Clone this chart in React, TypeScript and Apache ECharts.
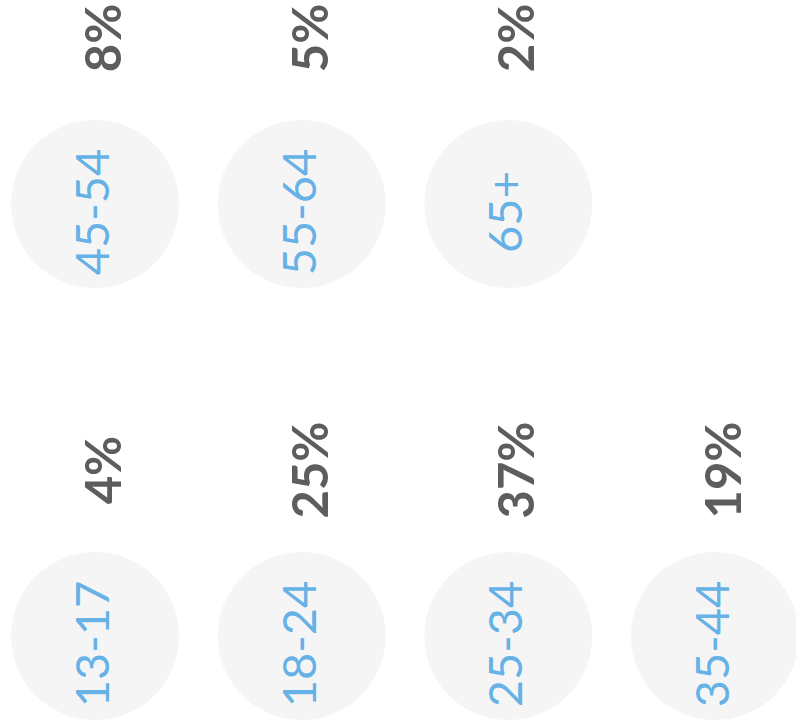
import React, { useEffect, useRef } from "react";
import * as echarts from "echarts";

// Age groups, their column / row slot in the grid, and audience share (%)
const ageGroups = ["13-17", "18-24", "25-34", "35-44", "45-54", "55-64", "65+"];
const columns = [0, 1, 2, 3, 0, 1, 2];
const rows = [0, 0, 0, 0, 1, 1, 1];
const shares = [4, 25, 37, 19, 8, 5, 2];

export default function App() {
  const ref = useRef<HTMLDivElement>(null);
  useEffect(() => {
    if (!ref.current) return;
    const chart = echarts.init(ref.current, undefined, { renderer: "svg" });
    const circleData = ageGroups.map((g, i) => ({ value: [columns[i], rows[i]], name: g }));
    const shareData = shares.map((s, i) => ({ value: [columns[i], rows[i], s], name: ageGroups[i] }));
    chart.setOption({
      animation: false,
      backgroundColor: "#ffffff",
      grid: { left: 0, right: 0, top: 0, bottom: 0 },
      xAxis: { type: "value", min: -0.46, max: 3.392, show: false, splitLine: { show: false } },
      yAxis: { type: "value", min: -0.2106, max: 1.4722, show: false, splitLine: { show: false } },
      series: [
        {
          type: "scatter",
          data: circleData,
          symbol: "circle",
          symbolSize: 168,
          itemStyle: { color: "#f2f3f4" },
          label: {
            show: true,
            position: "inside",
            rotate: 90,
            formatter: (p: any) => p.name,
            color: "#3f9fe2",
            fontFamily: "Lato",
            fontSize: 47,
            offset: [-8, -4],
          },
        },
        {
          type: "scatter",
          data: shareData,
          symbol: "circle",
          symbolSize: 1,
          itemStyle: { color: "rgba(0,0,0,0)" },
          label: {
            show: true,
            position: "inside",
            rotate: 90,
            formatter: (p: any) => p.value[2] + "%",
            color: "#333436",
            fontFamily: "Lato",
            fontWeight: "bold",
            fontSize: 49,
            offset: [166, 7],
          },
        },
      ],
    });
    return () => chart.dispose();
  }, []);
  return (
    <div
      ref={ref}
      style={{ position: "fixed", left: 0, top: 0, width: 796, height: 727 }}
    />
  );
}
